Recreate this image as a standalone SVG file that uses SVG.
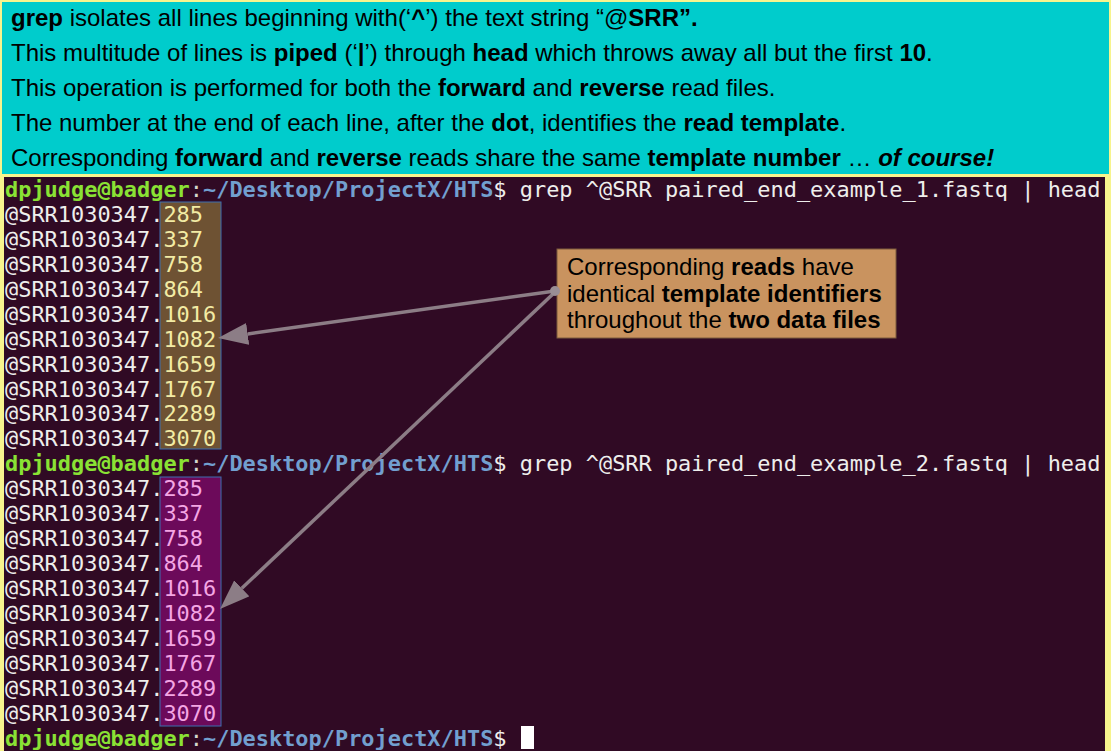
<svg xmlns="http://www.w3.org/2000/svg" width="1111" height="751" viewBox="0 0 1111 751">
<style>
.hd{font-family:"Liberation Sans",Arial,sans-serif;font-size:24px;fill:#000}
.b{font-weight:bold}
.bi{font-weight:bold;font-style:italic}
.tm{font-family:"DejaVu Sans Mono","Liberation Mono",monospace;font-size:21.93px;fill:#eeeeec}
.pu{fill:#8ae234;font-weight:bold}
.pc{fill:#d3d7cf}
.pp{fill:#729fcf;font-weight:bold}
.n1{fill:#f2eba4}
.n2{fill:#f4a6e4}
.conn{stroke:#8c7d86;stroke-width:3.5;fill:none}
</style>
<defs>
<marker id="ah" viewBox="0 0 30 22" refX="0" refY="11" markerWidth="30" markerHeight="22" markerUnits="userSpaceOnUse" orient="auto">
<path d="M0,0 L30,11 L0,22 z" fill="#8c7d86"/>
</marker>
</defs>
<rect x="0" y="0" width="1111" height="751" fill="#f7f48e"/>
<g id="header">
<rect x="2" y="2" width="1107" height="172" fill="#00cccc"/>
<text class="hd" x="11" y="26"><tspan class="b">grep</tspan> isolates all lines beginning with(‘<tspan class="b">^</tspan>’) the text string “@<tspan class="b">SRR”.</tspan></text>
<text class="hd" x="11" y="61">This multitude of lines is <tspan class="b">piped</tspan> (‘<tspan class="b">|</tspan>’) through <tspan class="b">head</tspan> which throws away all but the first <tspan class="b">10</tspan>.</text>
<text class="hd" x="11" y="96">This operation is performed for both the <tspan class="b">forward</tspan> and <tspan class="b">reverse</tspan> read files.</text>
<text class="hd" x="11" y="131">The number at the end of each line, after the <tspan class="b">dot</tspan>, identifies the <tspan class="b">read template</tspan>.</text>
<text class="hd" x="11" y="166">Corresponding <tspan class="b">forward</tspan> and <tspan class="b">reverse</tspan> reads share the same <tspan class="b">template number</tspan> … <tspan class="bi">of course!</tspan></text>
</g>
<g id="terminal">
<rect x="4" y="177" width="1101" height="574" fill="#300a24"/>
<rect id="box-forward" x="160" y="202" width="61" height="247" fill="#6e5233" stroke="#3d6fb0" stroke-width="1"/>
<rect id="box-reverse" x="160" y="477" width="61" height="249" fill="#6c0a5a" stroke="#3d6fb0" stroke-width="1"/>
<text class="tm" x="5" y="197"><tspan class="pu">dpjudge@badger</tspan><tspan class="pc">:</tspan><tspan class="pp">~/Desktop/ProjectX/HTS</tspan>$ grep ^@SRR paired_end_example_1.fastq | head</text>
<text class="tm" x="5" y="222">@SRR1030347.<tspan class="n1">285</tspan></text>
<text class="tm" x="5" y="247">@SRR1030347.<tspan class="n1">337</tspan></text>
<text class="tm" x="5" y="272">@SRR1030347.<tspan class="n1">758</tspan></text>
<text class="tm" x="5" y="297">@SRR1030347.<tspan class="n1">864</tspan></text>
<text class="tm" x="5" y="322">@SRR1030347.<tspan class="n1">1016</tspan></text>
<text class="tm" x="5" y="347">@SRR1030347.<tspan class="n1">1082</tspan></text>
<text class="tm" x="5" y="372">@SRR1030347.<tspan class="n1">1659</tspan></text>
<text class="tm" x="5" y="397">@SRR1030347.<tspan class="n1">1767</tspan></text>
<text class="tm" x="5" y="421">@SRR1030347.<tspan class="n1">2289</tspan></text>
<text class="tm" x="5" y="446">@SRR1030347.<tspan class="n1">3070</tspan></text>
<text class="tm" x="5" y="471"><tspan class="pu">dpjudge@badger</tspan><tspan class="pc">:</tspan><tspan class="pp">~/Desktop/ProjectX/HTS</tspan>$ grep ^@SRR paired_end_example_2.fastq | head</text>
<text class="tm" x="5" y="496">@SRR1030347.<tspan class="n2">285</tspan></text>
<text class="tm" x="5" y="521">@SRR1030347.<tspan class="n2">337</tspan></text>
<text class="tm" x="5" y="546">@SRR1030347.<tspan class="n2">758</tspan></text>
<text class="tm" x="5" y="571">@SRR1030347.<tspan class="n2">864</tspan></text>
<text class="tm" x="5" y="596">@SRR1030347.<tspan class="n2">1016</tspan></text>
<text class="tm" x="5" y="621">@SRR1030347.<tspan class="n2">1082</tspan></text>
<text class="tm" x="5" y="646">@SRR1030347.<tspan class="n2">1659</tspan></text>
<text class="tm" x="5" y="671">@SRR1030347.<tspan class="n2">1767</tspan></text>
<text class="tm" x="5" y="696">@SRR1030347.<tspan class="n2">2289</tspan></text>
<text class="tm" x="5" y="721">@SRR1030347.<tspan class="n2">3070</tspan></text>
<text class="tm" x="5" y="746"><tspan class="pu">dpjudge@badger</tspan><tspan class="pc">:</tspan><tspan class="pp">~/Desktop/ProjectX/HTS</tspan>$</text>
<rect id="cursor" x="521" y="726" width="13" height="23" fill="#ffffff"/>
</g>
<g id="callout">
<rect x="557" y="249" width="339" height="89" fill="#c9935f" stroke="#7a5a3c" stroke-width="1"/>
<text class="hd" x="567" y="275">Corresponding <tspan class="b">reads</tspan> have</text>
<text class="hd" x="567" y="302">identical <tspan class="b">template identifiers</tspan></text>
<text class="hd" x="567" y="328">throughout the <tspan class="b">two data files</tspan></text>
</g>
<g id="connectors">
<line class="conn" x1="555" y1="291" x2="247.7" y2="333.9" marker-end="url(#ah)"/>
<line class="conn" x1="554" y1="293" x2="241.8" y2="588.3" marker-end="url(#ah)"/>
<circle cx="555" cy="291" r="5" fill="#9a8e95"/>
</g>
</svg>
